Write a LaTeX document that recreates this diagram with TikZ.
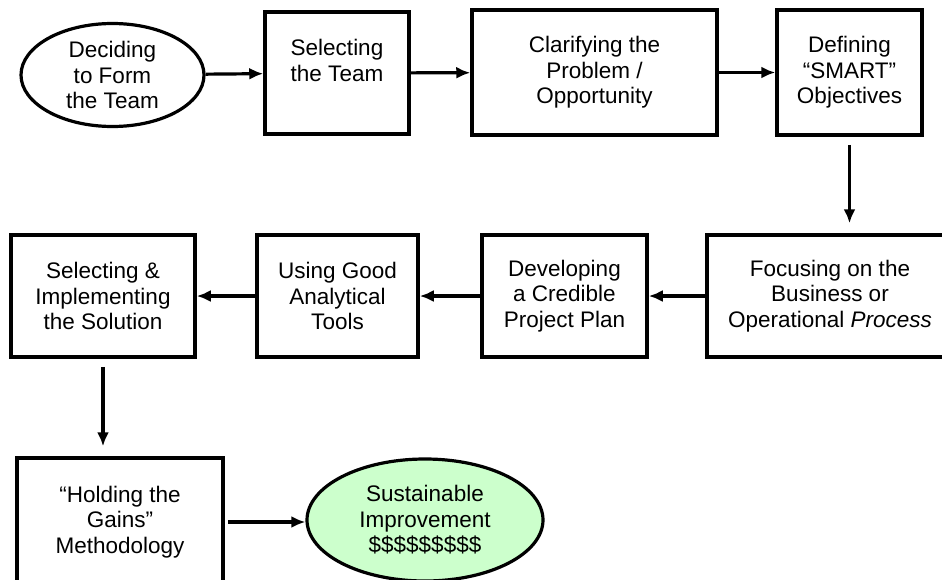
\documentclass[tikz,border=0pt]{standalone}
\usepackage{fontspec}
\setmainfont{Liberation Sans}
\usepackage{tikz}
\usetikzlibrary{shapes.geometric,arrows.meta}
\tikzset{>={Latex[length=14pt,width=12pt]}}
\tikzset{
  stepbox/.style={draw,line width=3.5pt,inner sep=0pt,align=center,font=\fontsize{22.5}{25.5}\selectfont},
  goal/.style={draw,ellipse,line width=3.2pt,inner sep=0pt,align=center,font=\fontsize{22.5}{25.5}\selectfont},
  flow/.style={->,line width=3.2pt}
}

\begin{document}
\begin{tikzpicture}[x=1pt,y=-1pt]
            \useasboundingbox (0,0) rectangle (942,579);
            \node[goal,minimum width=183pt,minimum height=103pt] (decide) at (112.5,75) {Deciding\\to Form\\the Team};
            \node[stepbox,minimum width=144pt,minimum height=122pt] (selteam) at (337,73) {Selecting\\the Team\\~};
            \node[stepbox,minimum width=245pt,minimum height=125pt] (clarify) at (594.5,72.5) {Clarifying the\\Problem /\\Opportunity};
            \node[stepbox,minimum width=145pt,minimum height=125pt] (define) at (849.5,72.5) {Defining\\``SMART''\\Objectives};
            \node[stepbox,minimum width=246pt,minimum height=122pt] (focus) at (830,296) {Focusing on the\\Business or\\Operational \textit{Process}};
            \node[stepbox,minimum width=165pt,minimum height=122pt] (plan) at (564.5,296) {Developing\\a Credible\\Project Plan};
            \node[stepbox,minimum width=161pt,minimum height=122pt] (tools) at (337.5,296) {Using Good\\Analytical\\Tools};
            \node[stepbox,minimum width=184pt,minimum height=122pt] (implement) at (103,296) {Selecting \&\\Implementing\\the Solution};
            \node[stepbox,minimum width=206pt,minimum height=128pt] (hold) at (120,522) {``Holding the\\Gains''\\Methodology};
            \node[goal,fill={rgb,255:red,204;green,255;blue,204},minimum width=236pt,minimum height=122pt] (sustain) at (425,520) {Sustainable\\Improvement\\\$\$\$\$\$\$\$\$\$};
            \draw[flow] (decide) -- (selteam);
            \draw[flow] (selteam) -- (clarify);
            \draw[flow] (clarify) -- (define);
            \draw[flow,shorten <=8pt,shorten >=10pt] (define.south) -- (define.south |- focus.north);
            \draw[flow] (focus) -- (plan);
            \draw[flow] (plan) -- (tools);
            \draw[flow] (tools) -- (implement);
            \draw[flow,shorten <=8pt,shorten >=10pt] (implement.south) -- (implement.south |- hold.north);
            \draw[flow,shorten <=3pt] (hold.east) -- (hold.east -| sustain.west);
        \end{tikzpicture}
\end{document}
